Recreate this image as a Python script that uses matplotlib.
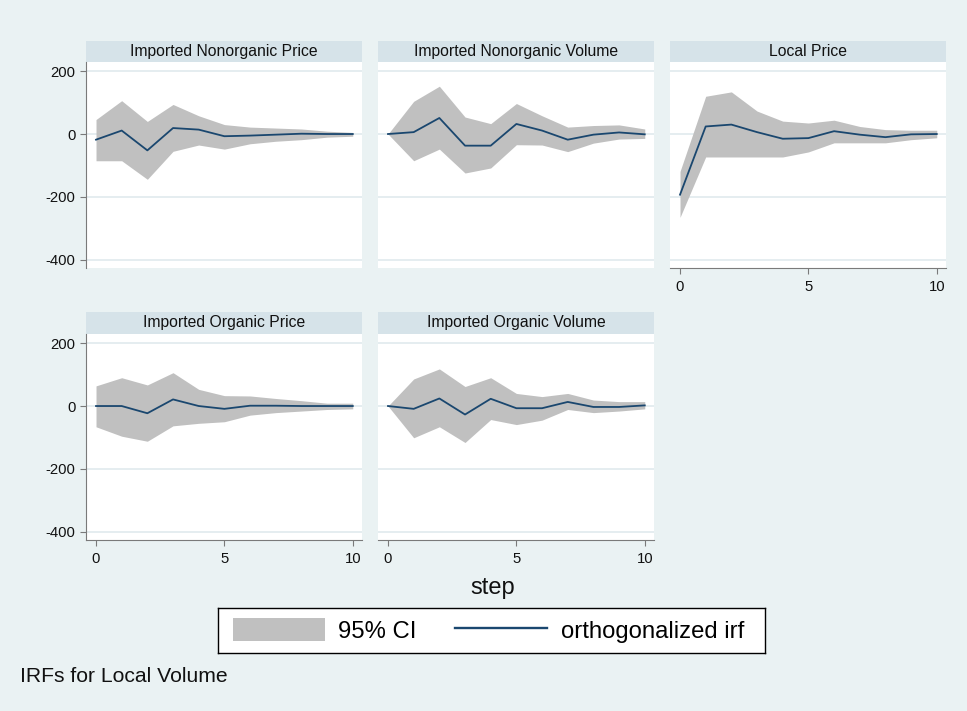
import matplotlib
matplotlib.use("Agg")
import matplotlib.pyplot as plt
from matplotlib.patches import Patch
from matplotlib.lines import Line2D

plt.rcParams['font.family'] = ['Liberation Sans', 'DejaVu Sans']

# ---------------- data ----------------
steps = list(range(11))
panel_titles = ["Imported Nonorganic Price", "Imported Nonorganic Volume", "Local Price",
                "Imported Organic Price", "Imported Organic Volume"]

inp_irf = [-18, 11, -52, 19, 14, -7, -5, -2, 1, 0, 0]
inp_lo = [-85, -85, -144, -55, -35, -48, -31, -23, -18, -10, -7]
inp_hi = [46, 106, 40, 94, 58, 30, 22, 19, 16, 9, 5]

inv_irf = [0, 6, 51, -37, -37, 32, 11, -18, -2, 5, -1]
inv_lo = [0, -85, -48, -124, -108, -34, -35, -56, -29, -16, -14]
inv_hi = [0, 104, 152, 54, 33, 97, 58, 22, 27, 29, 16]

lp_irf = [-193, 24, 30, 6, -15, -13, 9, -2, -10, -1, 0]
lp_lo = [-265, -73, -73, -73, -73, -57, -28, -28, -28, -18, -12]
lp_hi = [-119, 120, 134, 73, 41, 35, 44, 24, 14, 12, 12]

iop_irf = [0, 0, -23, 21, 0, -9, 1, 1, 0, 0, 0]
iop_lo = [-66, -96, -112, -63, -55, -50, -29, -21, -16, -11, -9]
iop_hi = [64, 90, 67, 106, 53, 33, 32, 24, 17, 9, 9]

iov_irf = [0, -9, 24, -27, 23, -7, -7, 13, -3, -3, 2]
iov_lo = [0, -101, -66, -116, -43, -59, -45, -11, -21, -16, -9]
iov_hi = [0, 86, 118, 62, 90, 40, 30, 40, 19, 14, 14]

irfs = [inp_irf, inv_irf, lp_irf, iop_irf, iov_irf]
lows = [inp_lo, inv_lo, lp_lo, iop_lo, iov_lo]
highs = [inp_hi, inv_hi, lp_hi, iop_hi, iov_hi]

y_ticks = [200, 0, -200, -400]
x_ticks = [0, 5, 10]
legend_labels = ["95% CI", "orthogonalized irf"]
x_title = "step"
note_text = "IRFs for Local Volume"

# ---------------- style ----------------
W, H = 967, 711
BG = "#EAF2F3"
STRIP = "#D6E3E9"
GRID = "#E3ECEF"
CI = "#C0C0C0"
LINE = "#1A476F"
AXC = "#7A7A7A"

fig = plt.figure(figsize=(W / 100, H / 100), dpi=100)
fig.patch.set_facecolor(BG)


def px_axes(x0, y0, x1, y1):
    return fig.add_axes([x0 / W, 1 - y1 / H, (x1 - x0) / W, (y1 - y0) / H])


cols = [(86, 362), (378, 654), (670, 946)]
rows = [((41, 62), (62, 268)), ((312, 334), (334, 540))]

# (col, row, show_left_axis, show_bottom_axis)
layout = [(0, 0, True, False), (1, 0, False, False), (2, 0, False, True),
          (0, 1, True, True), (1, 1, False, True)]

for i, (c, r, left, bottom) in enumerate(layout):
    x0, x1 = cols[c]
    (s0, s1), (p0, p1) = rows[r]
    # strip
    sax = px_axes(x0, s0, x1, s1)
    sax.set_facecolor(STRIP)
    for sp in sax.spines.values():
        sp.set_visible(False)
    sax.set_xticks([])
    sax.set_yticks([])
    sax.text(0.5, 0.5, panel_titles[i], ha="center", va="center", fontsize=11.3,
             color="#111111", transform=sax.transAxes)
    # plot
    ax = px_axes(x0, p0, x1, p1)
    ax.set_facecolor("white")
    ax.set_xlim(-0.39, 10.36)
    ax.set_ylim(-426, 229)
    for yv in y_ticks:
        ax.axhline(yv, color=GRID, lw=1.3, zorder=0)
    ax.fill_between(steps, lows[i], highs[i], color=CI, lw=0, zorder=1)
    ax.plot(steps, irfs[i], color=LINE, lw=1.3, zorder=2)
    for sp in ["top", "right"]:
        ax.spines[sp].set_visible(False)
    ax.spines["left"].set_visible(left)
    ax.spines["bottom"].set_visible(bottom)
    ax.spines["left"].set_color(AXC)
    ax.spines["bottom"].set_color(AXC)
    if left:
        ax.set_yticks(y_ticks)
        ax.set_yticklabels([str(v) for v in y_ticks])
        ax.tick_params(axis="y", length=4.5, width=0.8, color=AXC, pad=3,
                       labelsize=10.7, labelcolor="#111111")
    else:
        ax.set_yticks([])
    if bottom:
        ax.set_xticks(x_ticks)
        ax.set_xticklabels([str(v) for v in x_ticks])
        ax.tick_params(axis="x", length=4.5, width=0.8, color=AXC, pad=4,
                       labelsize=10.7, labelcolor="#111111")
    else:
        ax.set_xticks([])

fig.text(493 / W, 1 - 588 / H, x_title, ha="center", va="center", fontsize=17, color="#111111")
fig.text(20 / W, 1 - 676 / H, note_text, ha="left", va="center", fontsize=15.2, color="#111111")

# legend box
lax = px_axes(218, 608, 765, 653)
lax.set_facecolor("white")
lax.set_xticks([])
lax.set_yticks([])
for sp in lax.spines.values():
    sp.set_color("black")
    sp.set_linewidth(1.0)
handles = [Patch(facecolor=CI, edgecolor="none"), Line2D([0], [0], color=LINE, lw=1.7)]
lax.legend(handles, legend_labels, loc="center left", bbox_to_anchor=(15 / 547, 0.5),
           ncol=2, frameon=False, fontsize=17.2,
           handlelength=3.85, handleheight=1.13, handletextpad=0.55, columnspacing=1.63,
           borderpad=0, borderaxespad=0)

fig.savefig("out.png", dpi=100, facecolor=BG)
